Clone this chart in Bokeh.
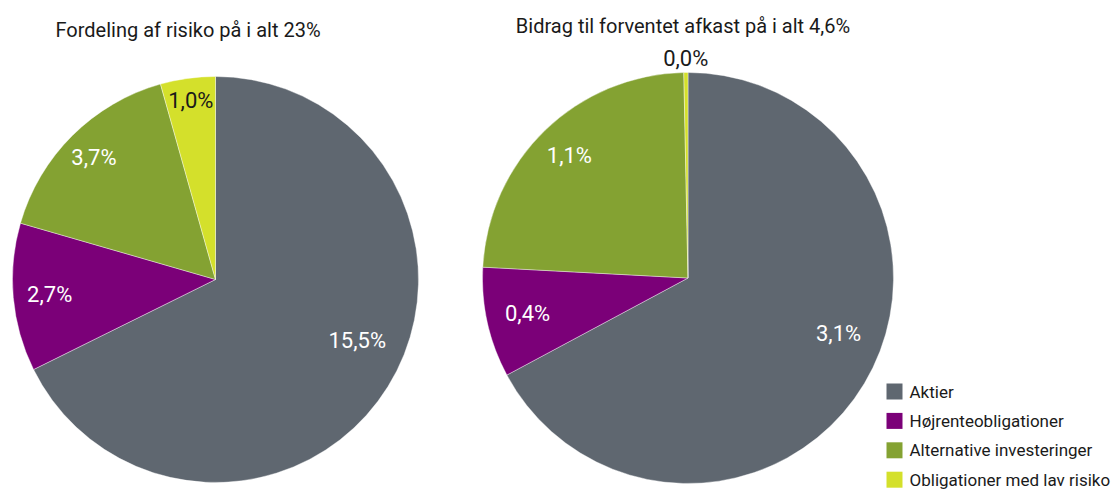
import numpy as np
from bokeh.plotting import figure
from bokeh.models import Range1d, ColumnDataSource
from bokeh.core.properties import value
from bokeh.embed import file_html
from bokeh.resources import INLINE

# ---- data ----
categories = ["Aktier", "Højrenteobligationer", "Alternative investeringer", "Obligationer med lav risiko"]
risk_values = [15.5, 2.7, 3.7, 1.0]
risk_labels = ["15,5%", "2,7%", "3,7%", "1,0%"]
return_values = [3.1, 0.4, 1.1, 0.015]
return_labels = ["3,1%", "0,4%", "1,1%", "0,0%"]
titles = ["Fordeling af risiko på i alt 23%", "Bidrag til forventet afkast på i alt 4,6%"]

# ---- style ----
colors = ["#5f6770", "#7b0078", "#84a232", "#d4e02b"]
W, H = 1114, 491
FONT = "Roboto"
TXT = "#1a1a1a"

p = figure(width=W, height=H, x_range=Range1d(0, W), y_range=Range1d(0, H),
           output_backend="svg", toolbar_location=None, min_border=0)
p.xaxis.visible = False
p.yaxis.visible = False
p.xgrid.visible = False
p.ygrid.visible = False
p.outline_line_color = None
p.background_fill_color = "white"
p.border_fill_color = "white"


def pie(cx, cy, R, vals, labels, rfac, shift_deg, label_colors):
    total = float(sum(vals))
    cum = np.concatenate([[0.0], np.cumsum(vals)])
    start = np.pi / 2 - 2 * np.pi * cum[:-1] / total
    end = np.pi / 2 - 2 * np.pi * cum[1:] / total
    src = ColumnDataSource(dict(x=[cx] * len(vals), y=[cy] * len(vals), start=start, end=end,
                                color=colors, cat=categories))
    p.wedge(x="x", y="y", radius=R, start_angle="start", end_angle="end", direction="clock",
            fill_color="color", line_color="white", line_width=0.4, source=src)
    mid = (start + end) / 2 + np.radians(shift_deg)
    r = R * np.array(rfac)
    lsrc = ColumnDataSource(dict(x=cx + r * np.cos(mid), y=cy + r * np.sin(mid), t=labels, c=label_colors))
    p.text(x="x", y="y", text="t", text_color="c", source=lsrc, text_align="center",
           text_baseline="middle", text_font=value(FONT), text_font_size="22px")


pie(215, H - 279, 203, risk_values, risk_labels, [0.76, 0.82, 0.85, 0.89], [8.6, 0, 0, 0],
    ["white", "white", "white", TXT])
pie(687.5, H - 277.5, 205.5, return_values, return_labels, [0.78, 0.80, 0.83, 1.07], [10.8, 0, 0, 0],
    ["white", "white", "white", TXT])

# titles
p.text(x=[187.5, 682.5], y=[H - 29, H - 25], text=titles, text_color=TXT, text_align="center",
       text_baseline="middle", text_font=value(FONT), text_font_size="20px")

# legend
ly = [H - (391 + i * 29.4) for i in range(len(categories))]
p.rect(x=[894] * len(categories), y=ly, width=16, height=16, fill_color=colors, line_color=None)
p.text(x=[909] * len(categories), y=ly, text=categories, text_color=TXT, text_align="left",
       text_baseline="middle", text_font=value(FONT), text_font_size="17px")

open("out.html", "w").write(file_html(p, INLINE))
